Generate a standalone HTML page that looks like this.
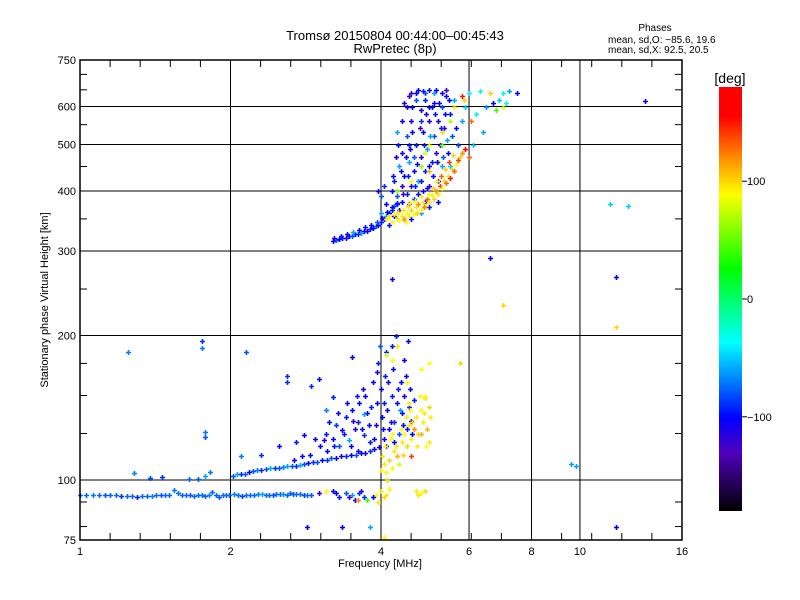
<!DOCTYPE html>
<html><head><meta charset="utf-8"><style>
html,body{margin:0;padding:0;background:#fff;}
svg{display:block;font-family:"Liberation Sans",sans-serif;}
</style></head><body>
<svg id="chart" width="800" height="600" viewBox="0 0 800 600">
<defs>
<linearGradient id="cbg" x1="0" y1="0" x2="0" y2="1">
<stop offset="0" stop-color="#ff0000"/>
<stop offset="0.069" stop-color="#ff0000"/>
<stop offset="0.167" stop-color="#ff8c00"/>
<stop offset="0.253" stop-color="#ffff00"/>
<stop offset="0.428" stop-color="#00ff00"/>
<stop offset="0.603" stop-color="#00ffff"/>
<stop offset="0.781" stop-color="#0000ff"/>
<stop offset="0.861" stop-color="#5000be"/>
<stop offset="1" stop-color="#000000"/>
</linearGradient>
</defs>
<text x="395" y="40" text-anchor="middle" font-size="13">Tromsø 20150804 00:44:00–00:45:43</text>
<text x="395" y="53" text-anchor="middle" font-size="13">RwPretec (8p)</text>
<text x="655" y="31" text-anchor="middle" font-size="10">Phases</text>
<text x="608" y="43" font-size="10">mean, sd,O: −85.6, 19.6</text>
<text x="608" y="53" font-size="10">mean, sd,X:  92.5, 20.5</text>
<g id="grid"></g>
<g id="marks"></g>
<rect x="80" y="60" width="602" height="480" fill="none" stroke="#000" stroke-width="1.5"/>
<g id="axes"></g>
<text x="380" y="567" text-anchor="middle" font-size="11">Frequency [MHz]</text>
<text transform="translate(48,300) rotate(-90)" text-anchor="middle" font-size="11">Stationary phase Virtual Height [km]</text>
<rect x="719" y="87" width="23" height="424" fill="url(#cbg)"/>
<text x="730" y="83" text-anchor="middle" font-size="14">[deg]</text>
<g id="cbticks"></g>
</svg>
<script>
const xTicks=[1,2,4,6,8,10,16];
const xTickLabels=["1","2","4","6","8","10","16"];
const xGrid=[2,4,6,8,10];
const yTicks=[75,100,200,300,400,500,600,750];
const yTickLabels=["75","100","200","300","400","500","600","750"];
const yGrid=[100,200,300,400,500,600];
const cbTicks=[100,0,-100];
const cbTickLabels=["100","0","−100"];
const colorPhases=[180,155,120,89,26,-37,-101,-130,-180];
const colorRGB=[[255,0,0],[255,0,0],[255,140,0],[255,255,0],[0,255,0],[0,255,255],[0,0,255],[80,0,190],[0,0,0]];

const freq=[
1.00,1.03,1.06,1.09,1.12,1.15,1.18,1.21,1.24,1.27,1.30,1.33,1.36,1.39,1.42,1.45,1.48,1.51,1.54,1.57,1.60,1.63,1.66,1.69,1.72,1.75,1.78,1.81,1.84,1.87,1.90,1.93,1.96,1.99,2.03,2.07,2.11,2.15,2.19,2.23,2.27,2.31,2.35,2.39,2.43,2.47,2.51,2.55,2.59,2.63,2.67,2.71,2.75,2.80,2.85,2.90,
2.02,2.06,2.10,2.14,2.18,2.22,2.26,2.30,2.35,2.40,2.45,2.50,2.55,2.60,2.65,2.70,2.75,2.80,2.86,2.92,2.98,3.05,3.12,3.18,3.25,3.32,3.40,3.48,3.56,3.64,3.72,3.80,3.88,3.96,
1.28,1.46,1.65,1.72,1.78,1.82,1.38,
3.1,3.2,3.25,3.3,3.35,3.4,3.45,3.5,3.55,3.6,3.62,3.7,3.72,3.75,3.8,3.85,3.9,3.93,3.95,3.98,4.0,4.02,4.05,4.08,4.1,4.12,4.15,4.2,4.22,4.25,4.28,4.3,4.35,4.38,4.4,4.45,4.5,4.52,4.55,4.6,4.65,4.1,3.6,3.0,2.9,3.2,3.5,3.1,3.7,4.45,4.2,1.25,1.75,1.75,2.15,1.78,1.78,2.6,2.6,2.3,2.5,2.7,2.8,2.95,2.1,
4.0,4.05,4.1,4.15,4.2,4.25,4.3,4.35,4.4,4.45,4.5,4.55,4.6,4.65,4.7,4.75,4.8,4.85,4.9,4.95,5.0,4.6,4.2,4.9,4.5,4.8,4.2,5.0,4.3,4.1,4.55,
3.2,3.3,3.4,3.5,3.55,3.65,3.7,3.75,3.9,4.0,4.05,4.7,4.8,4.9,4.1,3.1,3.0,3.6,2.85,3.35,4.05,3.8,
3.2,3.25,3.3,3.35,3.4,3.45,3.5,3.55,3.6,3.65,3.7,3.75,3.8,3.85,3.9,3.95,4.0,4.05,4.1,4.15,4.2,4.25,4.3,
3.22,3.32,3.42,3.52,3.62,3.72,3.82,3.92,4.02,4.12,
4.2,4.25,4.3,4.35,4.4,4.4,4.45,4.5,4.5,4.55,4.6,4.6,4.65,4.7,4.7,4.75,4.8,4.8,4.85,4.9,4.9,4.95,5.0,5.0,5.05,5.05,5.1,5.1,5.15,5.2,5.2,5.25,5.3,5.3,5.35,5.4,5.45,5.5,5.55,5.6,5.65,4.5,4.6,4.75,4.85,5.0,5.15,5.4,4.45,4.55,4.65,4.75,4.85,4.95,4.3,4.4,4.55,4.65,4.9,5.2,5.0,4.8,4.6,4.35,4.25,4.15,4.1,4.0,3.95,4.05,4.0,5.5,5.7,5.8,
4.1,4.2,4.3,4.35,4.4,4.45,4.5,4.55,4.6,4.65,4.7,4.75,4.8,4.85,4.9,4.95,5.0,5.05,5.1,5.15,5.2,5.25,5.3,5.35,5.4,5.45,5.5,5.55,5.6,5.65,5.7,5.75,5.8,5.9,6.0,5.2,5.0,4.9,5.3,5.5,5.6,5.8,5.85,5.9,6.0,6.3,6.6,7.0,7.2,6.9,6.5,6.2,6.05,6.1,6.4,6.7,7.5,7.1,7.0,6.8,4.3,4.6,4.8,5.0,5.3,
13.5,11.5,12.5,6.6,4.2,7.0,11.8,11.8,9.6,9.8,11.8,5.75,
4.22,4.28,4.32,4.38,4.42,4.48,4.52,4.58,4.62,4.68,4.72,4.78,4.82,4.88,4.92,4.98,5.02,5.08,5.12,5.18,5.22,5.28,5.32,5.38,5.42,5.48,4.45,4.55,4.7,4.9,5.1,5.3,4.62,4.8,5.0,4.4,4.3,4.2,
3.15,3.28,3.38,3.42,3.48,3.52,3.58,3.66,3.68,3.78,3.82,3.88,3.92,4.03,4.06,4.14,4.18,4.24,4.32,4.36,4.42,4.48,4.58,4.62,3.02,3.08,3.12,3.22,2.88,2.78,2.68,
4.02,4.08,4.12,4.18,4.28,4.38,4.42,4.48,4.58,4.62,4.72,4.78,4.82,4.88,4.92,4.98,5.02,
4.15,4.25,4.32,4.42,4.48,4.52,4.58,4.68,4.72,4.82,4.88,4.98,5.08,5.18,5.28,5.38,5.48,5.58,
3.25,3.45,3.62,3.85,3.95,4.15,4.75
];
const height=[
93,93,93,93,93,93,93,92.5,92.5,92.5,92,92.5,92.5,92.5,93,93,93,93,95.5,94,93,93,93,92.5,93,93,92.5,93,94.5,93,92,93,93,93,93.5,93,92.5,93,93,93,93.5,93.5,93,93,93,93.5,93.5,93.5,93,94,93.5,93.5,93.5,93,93,93,
102,103,103,103,104,104.5,105,105,105.5,106,106,106,106.5,107,107,107,107.5,108,108.5,109,109,110,110,111,111,112,112,113,113,114,114,115,116,117,
103.5,101.5,100.5,100.5,102,104,101,
125,122,130,118,127,135,121,140,128,132,145,124,150,138,120,160,130,145,175,190,155,135,122,165,185,140,128,150,170,132,200,145,125,160,138,150,128,195,142,133,147,118,115,162,157,149,180,140,137,178,190,185,195,188,185,126,123,165,160,113,118,120,124,122,112,
105,108,104,110,106,115,112,108,120,125,118,130,122,128,135,125,140,132,148,128,120,112,125,150,160,170,178,175,190,182,145,
95,92,94,93,91,95,92,91,93,95,92,95,94,95,93,95,94,91,80,80,76,80,
315,317,318,320,320,322,322,325,325,327,330,330,333,335,338,340,345,350,355,360,365,372,378,
320,323,326,328,332,336,340,345,352,362,
400,420,390,450,410,480,430,395,520,460,410,560,440,500,620,420,470,590,530,440,640,490,410,560,600,460,520,640,480,560,420,500,600,450,540,630,480,580,520,620,540,600,640,650,645,650,650,650,350,375,385,395,400,405,530,560,500,470,380,380,370,360,350,365,355,340,375,390,400,410,360,450,500,560,
350,345,352,348,355,350,360,355,365,358,370,375,365,380,372,385,380,392,385,400,395,410,405,420,415,430,425,445,440,455,465,470,480,490,470,460,440,480,500,560,600,630,620,600,640,645,640,640,645,620,600,580,560,500,530,610,640,610,600,590,400,420,450,500,530,
615,375,372,290,262,232,265,208,108,107,80,175,
430,470,500,440,395,470,430,490,530,410,455,540,420,500,580,450,520,430,580,460,610,540,470,580,510,620,610,630,640,620,610,640,600,560,600,380,375,370,
132,138,125,145,118,133,150,128,155,130,142,122,168,128,145,160,132,120,155,140,130,165,155,125,118,121,115,118,113,112,110,
112,118,100,122,118,128,113,135,140,132,118,150,125,138,118,142,135,
355,358,362,365,345,372,378,382,360,390,370,395,405,420,430,445,460,475,
94,92,94,92,90,96,93
];
const phase=[
-75,-75,-70,-75,-80,-75,-75,-90,-75,-75,-95,-75,-75,-70,-75,-80,-75,-75,-70,-75,-75,-75,-80,-75,-75,-75,-75,-70,-75,-75,-80,-75,-75,-75,-70,-75,-85,-75,-75,-75,-70,-60,-75,-75,-80,-75,-75,-65,-75,-75,-80,-75,-75,-85,-75,-80,
-80,-60,-90,-80,-100,-80,-70,-90,-80,-60,-90,-80,-70,-60,-80,-90,-60,-80,-100,-90,-80,-100,-90,-80,-100,-110,-90,-100,-80,-100,-110,-90,-100,-105,
-70,-90,-75,-80,-60,-70,-85,
-95,-100,-90,-80,-105,-95,-60,-100,-110,-95,-100,-90,-100,-105,-95,-100,-110,-100,-95,-80,-100,-100,-110,-95,-90,-105,-100,-95,-100,-90,-95,-100,-80,-100,-100,-110,-95,-100,-90,-100,-95,-100,-110,-100,-90,-95,-100,-70,-60,-100,-95,-70,-90,-70,-80,-70,-80,-90,-90,-90,-100,-95,-100,-100,-70,
90,95,85,100,90,95,110,80,95,90,100,95,85,120,95,100,90,95,100,110,95,140,90,90,85,90,90,90,95,80,95,
-100,-95,-80,-60,-100,-110,-90,40,90,95,100,95,90,100,95,90,-120,120,-100,-100,90,-60,
-100,-80,-100,-95,-110,-100,-80,-100,-95,-60,-100,-110,-95,-100,-80,-100,-95,-100,-60,-100,-95,-80,-100,
-110,-95,-100,-60,-100,-95,-100,-80,-110,-100,
-100,-95,-80,-60,-120,-110,-100,-95,-80,-60,-120,-110,-100,-95,-80,-60,-120,-110,-100,-95,-80,-60,-120,-110,-100,-95,-80,-60,-120,-110,-100,-95,-80,-60,-120,-110,-100,-95,-80,-60,-100,-110,-120,-100,-95,-110,-100,-120,-100,-95,-80,-100,-110,-100,-60,-100,-95,-80,-100,-100,-95,-60,-100,-110,-100,-95,-100,-80,-100,-90,-60,-50,-80,-60,
95,90,100,85,95,110,90,95,100,85,95,120,90,95,100,130,95,90,100,120,95,140,90,100,130,95,150,100,130,90,140,100,120,160,130,60,110,80,60,70,90,150,100,-50,-40,-30,100,-40,-60,-50,-60,-40,130,-50,-60,-100,-100,-40,80,40,60,90,60,90,100,
-100,-50,-50,-100,-100,100,-100,100,-60,-60,-100,100,
-100,-110,-95,-100,-120,-100,-95,-110,-100,-95,-100,-120,-100,-95,-110,-100,-60,-100,-95,-110,-100,-95,-80,-100,-60,-100,-110,-120,-100,-95,-100,-110,-100,-90,-100,-100,-95,-100,
-100,-110,-95,-100,-100,-120,-95,-100,-110,-100,-95,-100,-110,-100,-95,-100,-110,-100,-95,-60,-100,-110,-100,-100,-100,-110,-100,-95,-100,-110,-100,
95,90,100,90,95,90,100,95,90,100,95,90,110,95,90,100,95,
95,90,100,95,90,100,95,90,100,95,120,90,100,95,130,100,140,100,
-100,-120,-90,-100,95,90,95
];

const svgNS="http://www.w3.org/2000/svg";
const X0=80,X1=682,Y0=540,Y1=60;
function xs(f){return X0+(X1-X0)*Math.log2(f)/4;}
function ys(h){return Y0-(Y0-Y1)*Math.log10(h/75);}
function cmap(p){
  for(let i=0;i<colorPhases.length-1;i++){
    const a=colorPhases[i],b=colorPhases[i+1];
    if(p<=a&&p>=b){const t=(a-p)/(a-b);const c1=colorRGB[i],c2=colorRGB[i+1];
      return "rgb("+c1.map((v,k)=>Math.round(v+(c2[k]-v)*t)).join(",")+")";}
  }
  return p>0?"rgb(255,0,0)":"rgb(0,0,0)";
}
function mk(tag,attrs,parent){const e=document.createElementNS(svgNS,tag);for(const k in attrs)e.setAttribute(k,attrs[k]);parent.appendChild(e);return e;}

const grid=document.getElementById('grid');
xGrid.forEach(v=>{const l=mk('line',{x1:xs(v),x2:xs(v),y1:Y1,y2:Y0,stroke:'#000','stroke-width':1},grid);

});
yGrid.forEach(v=>{const l=mk('line',{x1:X0,x2:X1,y1:ys(v),y2:ys(v),stroke:'#000','stroke-width':1},grid);

});

const axes=document.getElementById('axes');
for(let i=1;i<20;i++){if(i%5===0)continue;const x=X0+(X1-X0)*i/20;
 mk('line',{x1:x,x2:x,y1:Y0,y2:Y0-7,stroke:'#000'},axes);mk('line',{x1:x,x2:x,y1:Y1,y2:Y1+7,stroke:'#000'},axes);}
const yMinor=[80,90,125,150,175,250,350,450,550,650,700];
yMinor.forEach(v=>{const y=ys(v);mk('line',{x1:X0,x2:X0+7,y1:y,y2:y,stroke:'#000'},axes);mk('line',{x1:X1,x2:X1-7,y1:y,y2:y,stroke:'#000'},axes);});
xTicks.forEach((v,i)=>{const t=mk('text',{x:xs(v),y:555,'text-anchor':'middle','font-size':11},axes);t.textContent=xTickLabels[i];

});
yTicks.forEach((v,i)=>{const t=mk('text',{x:76,y:ys(v)+4,'text-anchor':'end','font-size':11},axes);t.textContent=yTickLabels[i];

});

const marks=document.getElementById('marks');
for(let i=0;i<freq.length;i++){
  const x=Math.round(xs(freq[i])),y=Math.round(ys(height[i]));
  const p=mk('path',{d:`M${x-2} ${y+0.5}h5M${x+0.5} ${y-2}v5`,stroke:cmap(phase[i]),'stroke-width':1.6,fill:'none'},marks);
  
  
}

const cb=document.getElementById('cbticks');
function cy(p){return 87+(180-p)/360*424;}
cbTicks.forEach((v,i)=>{const y=cy(v);mk('line',{x1:742,x2:747,y1:y,y2:y,stroke:'#000'},cb);
const t=mk('text',{x:747,y:y+4,'font-size':11},cb);t.textContent=cbTickLabels[i];

});
</script>
</body></html>
